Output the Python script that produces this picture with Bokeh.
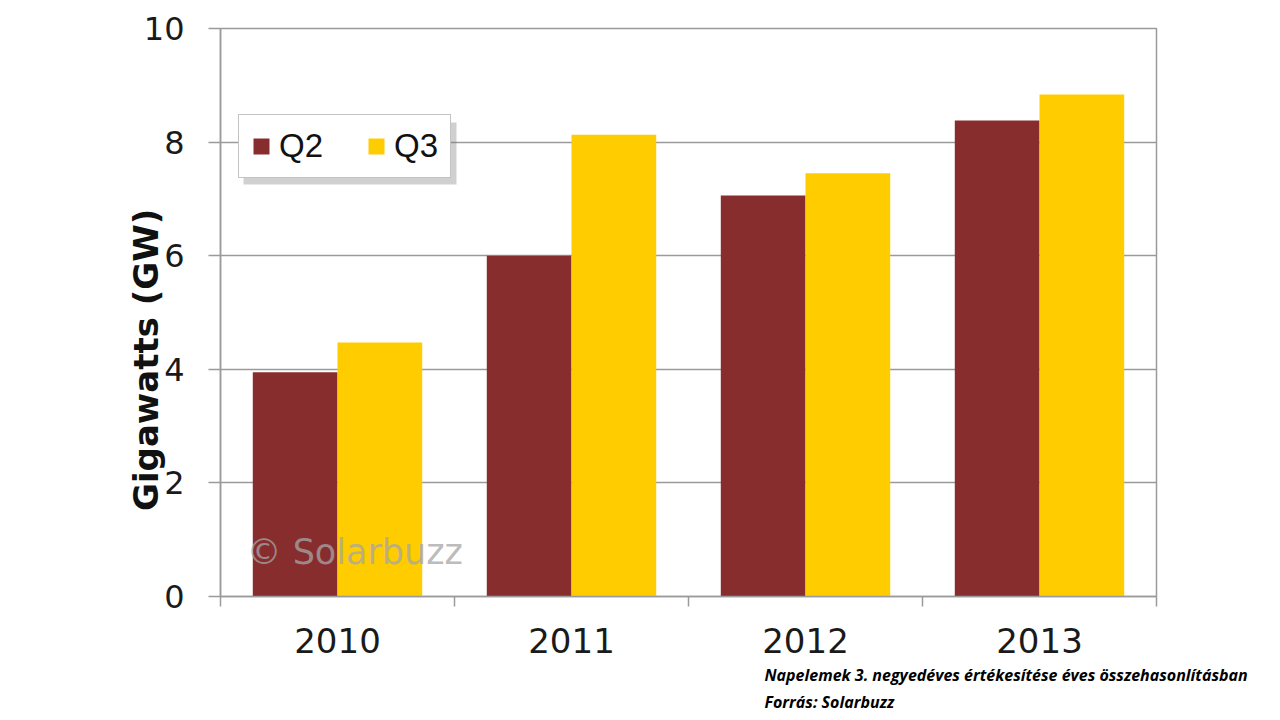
from bokeh.plotting import figure
from bokeh.models import (Range1d, FixedTicker, Legend, LegendItem, Label,
                          BoxAnnotation, ColumnDataSource, Title)
from bokeh.transform import dodge
from bokeh.embed import file_html
from bokeh.resources import INLINE

years = ["2010", "2011", "2012", "2013"]
q2 = [3.95, 6.0, 7.06, 8.38]
q3 = [4.47, 8.13, 7.45, 8.84]
y_ticks = [0, 2, 4, 6, 8, 10]

Q2_COLOR = "#882D2E"
Q3_COLOR = "#FFCC00"
GRID = "#9a9a9a"

idx = list(range(len(years)))
centers = [i + 0.5 for i in idx]
bounds = list(range(len(years) + 1))
src = ColumnDataSource(dict(center=centers, q2=q2, q3=q3))

p = figure(width=1272, height=712, output_backend="svg", toolbar_location=None,
           x_range=Range1d(0, len(years)), y_range=Range1d(0, 10),
           min_border_left=220, min_border_right=116,
           min_border_top=28, min_border_bottom=116)
p.frame_width = 936
p.frame_height = 568

r2 = p.vbar(x=dodge("center", -0.181, range=p.x_range), top="q2", width=0.362,
            source=src, fill_color=Q2_COLOR, line_color=None)
r3 = p.vbar(x=dodge("center", 0.181, range=p.x_range), top="q3", width=0.362,
            source=src, fill_color=Q3_COLOR, line_color=None)

p.outline_line_color = GRID
p.outline_line_width = 1.5
p.background_fill_color = "white"
p.border_fill_color = "white"

# grid
p.xgrid.grid_line_color = None
p.ygrid.grid_line_color = GRID
p.ygrid.grid_line_width = 1.5
p.ygrid.ticker = FixedTicker(ticks=y_ticks)

# y axis
p.yaxis.ticker = FixedTicker(ticks=y_ticks)
p.yaxis.axis_line_color = GRID
p.yaxis.axis_line_width = 1.5
p.yaxis.major_tick_line_color = GRID
p.yaxis.major_tick_line_width = 1.5
p.yaxis.major_tick_out = 12
p.yaxis.major_tick_in = 0
p.yaxis.minor_tick_line_color = None
p.yaxis.major_label_text_font = "DejaVu Sans"
p.yaxis.major_label_text_font_size = "32px"
p.yaxis.major_label_text_color = "#1a1a1a"
p.yaxis.major_label_standoff = 24
# trailing no-break spaces shift the visible title down, as in the original
p.yaxis.axis_label = "Gigawatts (GW)" + "\u00a0" * 8
p.yaxis.axis_label_text_font = "DejaVu Sans"
p.yaxis.axis_label_text_font_style = "bold"
p.yaxis.axis_label_text_font_size = "34px"
p.yaxis.axis_label_text_color = "#111111"
p.yaxis.axis_label_standoff = -25

# x axis
p.xaxis.ticker = FixedTicker(ticks=centers, minor_ticks=bounds)
p.xaxis.major_label_overrides = {c: y for c, y in zip(centers, years)}
p.xaxis.axis_line_color = GRID
p.xaxis.axis_line_width = 1.5
p.xaxis.major_tick_line_color = None
p.xaxis.major_tick_out = 10
p.xaxis.major_tick_in = 0
p.xaxis.minor_tick_line_color = GRID
p.xaxis.minor_tick_line_width = 1.5
p.xaxis.minor_tick_out = 10
p.xaxis.minor_tick_in = 0
p.xaxis.major_label_text_font = "DejaVu Sans"
p.xaxis.major_label_text_font_size = "34px"
p.xaxis.major_label_text_color = "#1a1a1a"
p.xaxis.major_label_standoff = 21

# watermark
p.add_layout(Label(x=26, y=25, x_units="screen", y_units="screen",
                   text="\u00a9 Solarbuzz", text_font="DejaVu Sans",
                   text_font_size="35px", text_color="#a6a6a6",
                   text_alpha=0.75))

# legend shadow (frame-relative screen units)
p.add_layout(BoxAnnotation(left=23, right=236, top=474, bottom=412,
                           left_units="screen", right_units="screen",
                           top_units="screen", bottom_units="screen",
                           fill_color="#777777", fill_alpha=0.35,
                           line_color=None, level="annotation"))

legend = Legend(items=[LegendItem(label="Q2", renderers=[r2]),
                       LegendItem(label="Q3", renderers=[r3])],
                location=(18, 418), orientation="horizontal",
                label_text_font="Liberation Sans", label_text_font_size="33px",
                label_text_color="#111111",
                glyph_width=20, glyph_height=20, label_standoff=8,
                spacing=43, padding=12, margin=0,
                border_line_color="#888888", border_line_width=1.5,
                background_fill_color="white", background_fill_alpha=1.0)
p.add_layout(legend)

# caption
cap1 = Title(text="Napelemek 3. negyedéves értékesítése éves összehasonlításban",
             align="left", offset=544, text_font="Open Sans",
             text_font_style="bold italic", text_font_size="16px",
             text_color="black", standoff=13)
cap2 = Title(text="Forrás: Solarbuzz",
             align="left", offset=544, text_font="Open Sans",
             text_font_style="bold italic", text_font_size="16px",
             text_color="black", standoff=-7)
p.add_layout(cap1, "below")
p.add_layout(cap2, "below")

open("out.html", "w").write(file_html(p, INLINE))
